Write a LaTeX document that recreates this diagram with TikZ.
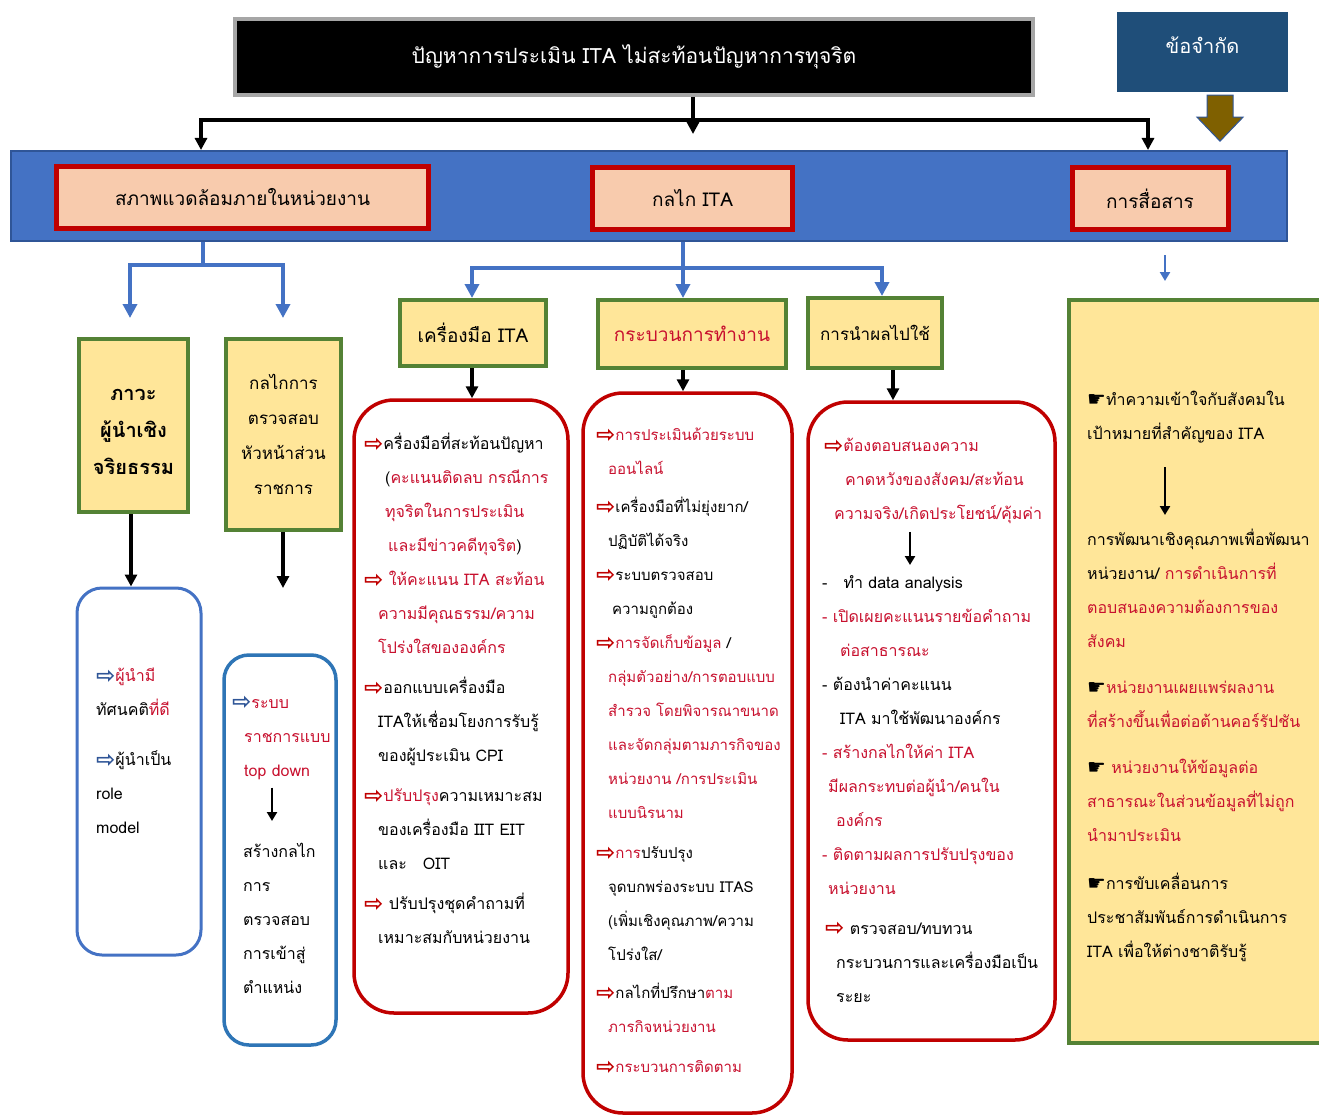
\documentclass[tikz,border=0pt]{standalone}
\usepackage{fontspec}
\setmainfont{Loma}[Script=Thai]
\newfontfamily\djv{DejaVu Sans}
\usetikzlibrary{arrows.meta}
\definecolor{bandblue}{HTML}{4472C4}
\definecolor{bandedge}{HTML}{2F5597}
\definecolor{salmon}{HTML}{F8CBAD}
\definecolor{hred}{HTML}{C00000}
\definecolor{tred}{HTML}{C8102E}
\definecolor{ylw}{HTML}{FFE699}
\definecolor{grn}{HTML}{548235}
\definecolor{navy}{HTML}{1F4E79}
\definecolor{olive}{HTML}{7F6000}
\definecolor{bblue}{HTML}{4472C4}
\definecolor{bblue2}{HTML}{2E75B6}
\definecolor{arrblue}{HTML}{2F5597}
\newcommand{\wa}[1][hred]{{\djv\bfseries\fontsize{23}{23}\selectfont\raisebox{-1.5pt}{\textcolor{#1}{⇨}}}}
\newcommand{\hnd}{{\djv\fontsize{21}{21}\selectfont\raisebox{-1pt}{☛}}}
\newcommand{\rt}[1]{\textcolor{tred}{#1}}
\begin{document}
\begin{tikzpicture}[x=1pt,y=-1pt,
  hdr/.style={draw=hred,line width=5pt,fill=salmon,font=\fontsize{19}{22}\selectfont},
  ybox/.style={draw=grn,line width=4pt,fill=ylw,align=center},
  rbox/.style={draw=hred,line width=3.5pt,rounded corners=40pt},
  bbox/.style={draw=bblue,line width=3pt,rounded corners=25pt},
  body/.style={inner sep=0pt,anchor=north west,align=left,font=\fontsize{16}{34}\selectfont},
  bodys/.style={body,font=\fontsize{15}{34}\selectfont},
  blk/.style={line width=3.5pt,-{Triangle[length=12pt,width=12pt]}},
  blu/.style={draw=bandblue,line width=4pt,-{Triangle[length=14pt,width=14pt]}},
  bluline/.style={draw=bandblue,line width=4pt},
  inarr/.style={line width=2.5pt,-{Triangle[length=9pt,width=10pt]}}
]
\useasboundingbox (0,0) rectangle (1319,1118);
\fill[white] (0,0) rectangle (1319,1118);

% top
\node[draw=gray!70,line width=4pt,fill=black,text=white,minimum width=798pt,minimum height=76pt,font=\fontsize{21}{26}\selectfont] (title) at (634,57) {ปัญหาการประเมิน ITA ไม่สะท้อนปัญหาการทุจริต};
\node[fill=navy,text=white,minimum width=171pt,minimum height=80pt,font=\fontsize{20}{24}\selectfont,text depth=14pt] (lim) at (1202.5,52) {ข้อจำกัด};

% band
\node[draw=bandedge,line width=2pt,fill=bandblue,minimum width=1276pt,minimum height=90pt] (band) at (649,196) {};
\node[hdr,minimum width=372pt,minimum height=62pt] (h1) at (242.5,197.5) {สภาพแวดล้อมภายในหน่วยงาน};
\node[hdr,minimum width=200pt,minimum height=62pt] (h2) at (692.5,198.5) {กลไก ITA};
\node[hdr,minimum width=156pt,minimum height=62pt] (h3) at (1150,198.5) {การสื่อสาร};

% black distribution
\coordinate (hl) at (201,120);
\coordinate (hr) at (1148,120);
\coordinate (mt) at (693,134);
\draw[line width=3.5pt] (hl) -- (hr);
\draw[blk] ([yshift=1.75pt]hl) -- (hl |- band.north);
\draw[blk] ([yshift=1.75pt]hr) -- (hr |- band.north);
\draw[blk] (title.south -| mt) -- (mt);

% brown arrow from limit box
\coordinate (ba) at (lim.south -| 1220,0);
\filldraw[fill=olive,draw=bandedge,line width=1pt] ([xshift=-13pt,yshift=-3pt]ba) -- ([xshift=13pt,yshift=-3pt]ba) -- ([xshift=13pt,yshift=-25pt]ba) -- ([xshift=23pt,yshift=-25pt]ba) -- ([yshift=-49pt]ba) -- ([xshift=-23pt,yshift=-25pt]ba) -- ([xshift=-13pt,yshift=-25pt]ba) -- cycle;

% yellow boxes
\node[ybox,minimum width=109pt,minimum height=173pt] (y1) at (133.5,425.5) {};
\node[align=center,font=\fontsize{20}{37}\selectfont\bfseries] (y1t) at ([yshift=-6pt]y1.center) {ภาวะ\\ผู้นำเชิง\\จริยธรรม};
\node[ybox,minimum width=115pt,minimum height=191pt,font=\fontsize{17}{35}\selectfont] (y2) at (283.5,434.5) {กลไกการ\\ตรวจสอบ\\หัวหน้าส่วน\\ราชการ};
\node[ybox,minimum width=146pt,minimum height=66pt,font=\fontsize{19}{22}\selectfont] (y3) at (473,333) {เครื่องมือ ITA};
\node[ybox,minimum width=188pt,minimum height=68pt,font=\fontsize{19}{22}\selectfont,text=tred] (y4) at (692,334) {กระบวนการทำงาน};
\node[ybox,minimum width=134pt,minimum height=70pt,font=\fontsize{17}{22}\selectfont] (y5) at (875,333) {การนำผลไปใช้};
\node[ybox,minimum width=263pt,minimum height=743pt] (y6) at (1200,671.5) {};

% blue connectors
\coordinate (bl) at (203,265);
\coordinate (e1) at (130,318);
\coordinate (e2) at (283,318);
\draw[bluline] (bl |- band.south) -- (bl);
\draw[bluline] (e1 |- bl) -- (e2 |- bl);
\draw[blu] ([yshift=2pt]e1 |- bl) -- (e1);
\draw[blu] ([yshift=2pt]e2 |- bl) -- (e2);
\coordinate (bm) at (683,268);
\coordinate (m1) at (472,268);
\coordinate (m3) at (882,268);
\draw[bluline] (bm |- band.south) -- (bm);
\draw[bluline] (m1) -- (m3);
\draw[blu] ([yshift=2pt]m1) -- (m1 |- y3.north);
\draw[blu] (bm) -- (bm |- y4.north);
\draw[blu] ([yshift=2pt]m3) -- (m3 |- y5.north);
\coordinate (rs) at (1165,255);
\coordinate (re) at (1165,281);
\draw[draw=bandblue,line width=2.5pt,-{Triangle[length=9pt,width=10pt]}] (rs) -- (re);

% rounded boxes
\node[bbox,minimum width=124pt,minimum height=367pt] (rb1) at (139,771.5) {};
\node[bbox,draw=bblue2,line width=3.5pt,minimum width=112pt,minimum height=390pt] (rb2) at (280,850) {};
\node[rbox,minimum width=214pt,minimum height=613pt] (rr1) at (461,706.5) {};
\node[rbox,minimum width=209pt,minimum height=720pt] (rr2) at (687.5,753) {};
\node[rbox,minimum width=247pt,minimum height=638pt] (rr3) at (931.5,721) {};

% black arrows to lists
\coordinate (c2) at (283,588);
\draw[blk] (y1.south -| 131,0) -- (rb1.north -| 131,0);
\draw[blk] (y2.south -| c2) -- (c2);
\draw[blk] (y3.south -| 472,0) -- (rr1.north -| 472,0);
\draw[blk] (y4.south -| 683,0) -- (rr2.north -| 683,0);
\draw[blk] (y5.south -| 893,0) -- (rr3.north -| 893,0);

% texts - left blue boxes
\node[body] (t1) at (96,668) {\wa[arrblue]\rt{ผู้นำมี}\\ทัศนคติ\rt{ที่ดี}\\[16pt]\wa[arrblue]ผู้นำเป็น\\role\\model};
\node[body] (t2a) at (232,696) {\wa[arrblue]\rt{ระบบ}\\\hspace*{12pt}\rt{ราชการแบบ}\\\hspace*{12pt}\rt{top down}};
\node[body] (t2b) at (243,843) {สร้างกลไก\\การ\\ตรวจสอบ\\การเข้าสู่\\ตำแหน่ง};
\draw[inarr,shorten <=8pt,shorten >=22pt] (t2a.south -| 272,0) -- (t2b.north -| 272,0);

% red box 1
\node[body] (t3) at (364,433) {\wa ครื่องมือที่สะท้อนปัญหา\\
\hspace*{21pt}(\rt{คะแนนติดลบ กรณีการ}\\
\hspace*{21pt}\rt{ทุจริตในการประเมิน}\\
\hspace*{24pt}\rt{และมีข่าวคดีทุจริต})\\
\wa\ \rt{ให้คะแนน ITA สะท้อน}\\
\hspace*{14pt}\rt{ความมีคุณธรรม/ความ}\\
\hspace*{14pt}\rt{โปร่งใสขององค์กร}\\[6pt]
\wa ออกแบบเครื่องมือ\\
\hspace*{14pt}ITAให้เชื่อมโยงการรับรู้\\
\hspace*{14pt}ของผู้ประเมิน CPI\\[6pt]
\wa\rt{ปรับปรุง}ความเหมาะสม\\
\hspace*{14pt}ของเครื่องมือ IIT EIT\\
\hspace*{14pt}และ\quad OIT\\[6pt]
\wa\ ปรับปรุงชุดคำถามที่\\
\hspace*{14pt}เหมาะสมกับหน่วยงาน};

% red box 2
\node[bodys] (t4) at (596,428) {\wa\rt{การประเมินด้วยระบบ}\\
\hspace*{12pt}\rt{ออนไลน์}\\[4pt]
\wa เครื่องมือที่ไม่ยุ่งยาก/\\
\hspace*{12pt}ปฏิบัติได้จริง\\
\wa ระบบตรวจสอบ\\
\hspace*{16pt}ความถูกต้อง\\
\wa\rt{การจัดเก็บข้อมูล} /\\
\hspace*{12pt}\rt{กลุ่มตัวอย่าง/การตอบแบบ}\\
\hspace*{12pt}\rt{สำรวจ โดยพิจารณาขนาด}\\
\hspace*{12pt}\rt{และจัดกลุ่มตามภารกิจของ}\\
\hspace*{12pt}\rt{หน่วยงาน /การประเมิน}\\
\hspace*{12pt}\rt{แบบนิรนาม}\\[6pt]
\wa\rt{การ}ปรับปรุง\\
\hspace*{12pt}จุดบกพร่องระบบ ITAS\\
\hspace*{12pt}(เพิ่มเชิงคุณภาพ/ความ\\
\hspace*{12pt}โปร่งใส/\\[4pt]
\wa กลไกที่ปรึกษา\rt{ตาม}\\
\hspace*{12pt}\rt{ภารกิจหน่วยงาน}\\[6pt]
\wa\rt{กระบวนการติดตาม}};

% red box 3
\node[body] (t5a) at (824,438) {\wa\rt{ต้องตอบสนองความ}\\
\hspace*{21pt}\rt{คาดหวังของสังคม/สะท้อน}\\
\hspace*{10pt}\rt{ความจริง/เกิดประโยชน์/คุ้มค่า}};
\node[body] (t5b) at (822,575) {-\quad ทำ data analysis\\
\rt{- เปิดเผยคะแนนรายข้อคำถาม}\\
\hspace*{18pt}\rt{ต่อสาธารณะ}\\
- ต้องนำค่าคะแนน\\
\hspace*{18pt}ITA มาใช้พัฒนาองค์กร\\
\rt{- สร้างกลไกให้ค่า ITA}\\
\hspace*{6pt}\rt{มีผลกระทบต่อผู้นำ/คนใน}\\
\hspace*{14pt}\rt{องค์กร}\\
\rt{- ติดตามผลการปรับปรุงของ}\\
\hspace*{6pt}\rt{หน่วยงาน}\\[6pt]
\hspace*{3pt}\wa\ ตรวจสอบ/ทบทวน\\
\hspace*{14pt}กระบวนการและเครื่องมือเป็น\\
\hspace*{14pt}ระยะ};
\draw[inarr,shorten <=8pt,shorten >=10pt] (t5a.south -| 910,0) -- (t5b.north -| 910,0);

% right box
\node[body] (g1) at (1087,391) {\hnd ทำความเข้าใจกับสังคมใน\\เป้าหมายที่สำคัญของ ITA};
\node[body] (g2) at (1087,529) {การพัฒนาเชิงคุณภาพเพื่อพัฒนา\\
หน่วยงาน/ \rt{การดำเนินการที่}\\
\rt{ตอบสนองความต้องการของ}\\
\rt{สังคม}\\[12pt]
\hnd\rt{หน่วยงานเผยแพร่ผลงาน}\\
\rt{ที่สร้างขึ้นเพื่อต่อต้านคอร์รัปชัน}\\[12pt]
\hnd\ \rt{หน่วยงานให้ข้อมูลต่อ}\\
\rt{สาธารณะในส่วนข้อมูลที่ไม่ถูก}\\
\rt{นำมาประเมิน}\\[14pt]
\hnd การขับเคลื่อนการ\\
ประชาสัมพันธ์การดำเนินการ\\
ITA เพื่อให้ต่างชาติรับรู้};
\draw[inarr,shorten <=24pt,shorten >=14pt] (g1.south -| 1165,0) -- (g2.north -| 1165,0);
\end{tikzpicture}
\end{document}
